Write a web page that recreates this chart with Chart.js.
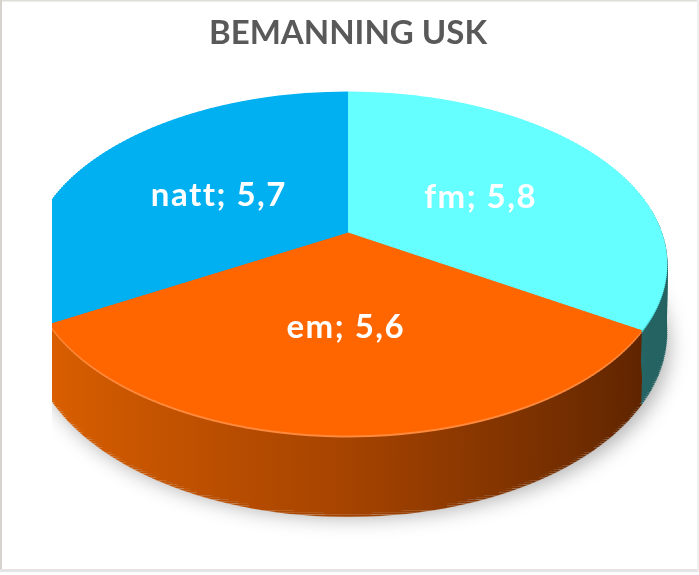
<!DOCTYPE html>
<html>
<head>
<meta charset="utf-8">
<script src="https://cdn.jsdelivr.net/npm/chart.js@4.4.1/dist/chart.umd.min.js"></script>
<style>
    html, body { margin: 0; padding: 0; background: #fff; }
    canvas { display: block; }
</style>
</head>
<body>
<canvas id="myChart" width="699" height="575"></canvas>
<script>
const labels = ['fm', 'em', 'natt'];
const values = [5.8, 5.6, 5.7];

const topColors = ['#66FFFF', '#FF6600', '#00B0F0'];
const rimColors = ['#4fdede', '#ff8a3d', '#0aa0dc'];
// side gradients, left -> right
const sideColors = [
    ['#459a9a', '#2f7d7d', '#246060'],
    ['#e26300', '#a54300', '#521f00'],
    ['#00aee8', '#0088bb', '#006088']
];

// view of the 3d pie
const TILT = 0.53;      // vertical squash at the centre line
const PERSP = 0.18;     // how much the near side grows
const DEPTH = 0.213;    // thickness, share of radius
const STRIP = 2;

function rowMap(arc, y0) {
    const R = arc.outerRadius;
    const b = R * TILT;
    const t = y0 + STRIP / 2 - arc.y;
    const w = t / (b + PERSP * t);
    const s = 1 / (1 - w * PERSP);
    return { w: w, s: s, sy: TILT * s * s };
}

// mode: 'top' = face, 'rim' = face moved down 2px,
// 'bottom' = face moved down by the thickness, 'side' = rows stretched over the thickness
function drawFace(chart, arcs, fills, mode) {
    const ctx = chart.ctx;
    const a0 = arcs[0];
    const cx = a0.x, cy = a0.y, R = a0.outerRadius;
    const b = R * TILT;
    const top = Math.floor(cy - b / (1 + PERSP));
    const bottom = Math.ceil(cy + b / (1 - PERSP));
    const left = chart.chartArea.left;
    for (let y0 = top; y0 < bottom; y0 += STRIP) {
        const m = rowMap(a0, y0);
        const depth = R * DEPTH * m.s;
        let shift = 0, h = STRIP;
        if (mode === 'rim') shift = 2;
        if (mode === 'bottom') shift = depth;
        if (mode === 'side') h = depth;
        const k = h / STRIP;
        const yTopUser = cy + m.w * R - (STRIP / 2) / m.sy;
        ctx.save();
        ctx.beginPath();
        ctx.rect(left, y0 + shift, chart.width - left, h);
        ctx.clip();
        ctx.translate(cx, y0 + shift);
        ctx.scale(m.s, m.sy * k);
        ctx.translate(-cx, -yTopUser);
        arcs.forEach(function (arc, i) {
            const saved = arc.options;
            arc.options = Object.assign({}, saved, { backgroundColor: fills[i], borderWidth: 0 });
            arc.draw(ctx);
            arc.options = saved;
        });
        ctx.restore();
    }
}

function project(arc, x, y) {
    const R = arc.outerRadius;
    const u = (x - arc.x) / R, w = (y - arc.y) / R;
    const d = 1 - w * PERSP;
    return { x: arc.x + R * u / d, y: arc.y + R * TILT * w / d };
}

const pie3d = {
    id: 'pie3d',
    beforeDatasetDraw(chart, args) {
        const ctx = chart.ctx;
        const arcs = args.meta.data;
        const a0 = arcs[0];
        const cx = a0.x, cy = a0.y, R = a0.outerRadius;
        const b = R * TILT;

        // soft shadow under the body
        ctx.save();
        ctx.beginPath();
        ctx.rect(chart.chartArea.left, 0, chart.width, chart.height);
        ctx.clip();
        ctx.filter = 'blur(10px)';
        ctx.fillStyle = 'rgba(0,0,0,0.3)';
        ctx.beginPath();
        ctx.ellipse(cx + 5, cy + b * PERSP / (1 - PERSP * PERSP) + R * DEPTH * 1.1 + 9,
            R / Math.sqrt(1 - PERSP * PERSP) * 0.99, b / (1 - PERSP * PERSP), 0, 0, Math.PI * 2);
        ctx.fill();
        ctx.restore();

        const grads = sideColors.map(function (c) {
            const g = ctx.createLinearGradient(cx - R, 0, cx + R, 0);
            g.addColorStop(0, c[0]);
            g.addColorStop(0.5, c[1]);
            g.addColorStop(1, c[2]);
            return g;
        });

        drawFace(chart, arcs, grads, 'bottom');
        drawFace(chart, arcs, grads, 'side');
        drawFace(chart, arcs, rimColors, 'rim');
        drawFace(chart, arcs, topColors, 'top');
        return false;
    },
    afterDatasetsDraw(chart) {
        const ctx = chart.ctx;
        const arcs = chart.getDatasetMeta(0).data;
        ctx.save();
        ctx.fillStyle = '#ffffff';
        ctx.font = 'bold 33px Lato';
        ctx.letterSpacing = '1.5px';
        ctx.textAlign = 'center';
        ctx.textBaseline = 'middle';
        arcs.forEach(function (arc, i) {
            const p = arc.tooltipPosition();
            const q = project(arc, p.x, p.y);
            ctx.fillText(labels[i] + '; ' + String(values[i]).replace('.', ','), q.x + 1, q.y + 3);
        });
        ctx.restore();
    },
    afterDraw(chart) {
        const ctx = chart.ctx;
        ctx.save();
        ctx.fillStyle = '#dedcd6';
        ctx.fillRect(0, 0, chart.width, 1.5);
        ctx.fillStyle = '#d6d3cc';
        ctx.fillRect(0, 0, 2, 571);
        ctx.fillStyle = '#e4e4e4';
        ctx.fillRect(0, 569, chart.width, 3);
        ctx.fillStyle = '#efefef';
        ctx.fillRect(697, 0, 2, 571);
        ctx.restore();
    }
};

const data = {
    labels: labels,
    datasets: [{
        data: values,
        backgroundColor: topColors,
        borderWidth: 0,
        radius: 314
    }]
};

const config = {
    type: 'pie',
    data: data,
    plugins: [pie3d],
    options: {
        responsive: false,
        animation: false,
        devicePixelRatio: 1,
        events: [],
        layout: {
            padding: { left: 52, right: 55, top: 0, bottom: 171 }
        },
        plugins: {
            legend: { display: false },
            tooltip: { enabled: false },
            title: {
                display: true,
                text: 'BEMANNING USK',
                color: '#595959',
                font: { family: 'Lato', size: 33, weight: 'bold' },
                padding: { top: 14, bottom: 7.4 }
            }
        }
    }
};

const myChart = new Chart(document.getElementById('myChart'), config);
</script>
</body>
</html>
